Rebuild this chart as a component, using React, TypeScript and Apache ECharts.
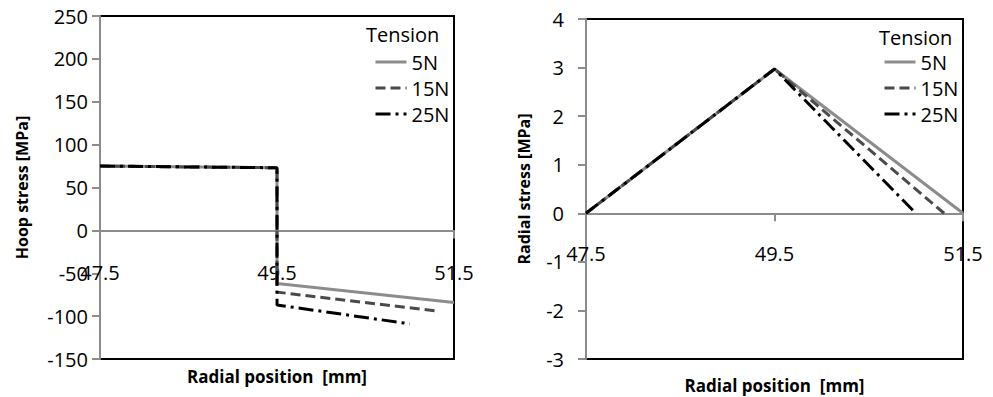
import React, { useEffect, useRef } from "react";
import * as echarts from "echarts";

const seriesNames = ["5N", "15N", "25N"];
const xTicks = [47.5, 49.5, 51.5];

// Hoop stress [MPa] vs radial position [mm]
const hoop5N = [[47.5, 75], [49.5, 73], [49.5, -62], [51.5, -84]];
const hoop15N = [[47.5, 75], [49.5, 73], [49.5, -72], [51.3, -94]];
const hoop25N = [[47.5, 75], [49.5, 73], [49.5, -87], [51.0, -109]];

// Radial stress [MPa] vs radial position [mm]
const radial5N = [[47.5, 0], [49.5, 2.97], [51.5, 0]];
const radial15N = [[47.5, 0], [49.5, 2.97], [51.3, 0]];
const radial25N = [[47.5, 0], [49.5, 2.97], [51.0, 0]];

const FONT = "Open Sans";
const AXIS_GRAY = "#8c8c8c";

const lineStyles = [
  { color: "#8c8c8c", width: 3, type: "solid" },
  { color: "#4a4a4a", width: 3, type: [10, 5] },
  { color: "#000000", width: 3, type: [15, 5, 3, 5] },
];

function makeX(gridIndex: number, labelMargin: number, nameGap: number) {
  return {
    gridIndex,
    type: "value",
    min: 47.5,
    max: 51.5,
    axisLine: { show: true, onZero: true, lineStyle: { color: AXIS_GRAY, width: 2 } },
    axisTick: { show: true, customValues: xTicks, length: 8, lineStyle: { color: AXIS_GRAY, width: 2 } },
    axisLabel: { customValues: xTicks, margin: labelMargin, fontSize: 20, fontFamily: FONT, color: "#000" },
    splitLine: { show: false },
    name: "Radial position  [mm]",
    nameLocation: "middle",
    nameGap,
    nameTextStyle: { fontSize: 17, fontWeight: "bold", fontFamily: FONT, color: "#000" },
  };
}

function makeY(gridIndex: number, min: number, max: number, interval: number, name: string, nameGap: number, labelMargin: number) {
  return {
    gridIndex,
    type: "value",
    min,
    max,
    interval,
    axisLine: { show: true, onZero: false, lineStyle: { color: AXIS_GRAY, width: 2 } },
    axisTick: { show: true, length: 8, lineStyle: { color: AXIS_GRAY, width: 2 } },
    axisLabel: { margin: labelMargin, fontSize: 20, fontFamily: FONT, color: "#000" },
    splitLine: { show: false },
    name,
    nameLocation: "middle",
    nameGap,
    nameTextStyle: { fontSize: 16, fontWeight: "bold", fontFamily: FONT, color: "#000" },
  };
}

function makeSeries(idx: number, datas: number[][][]) {
  return datas.map((d, i) => ({
    type: "line",
    name: seriesNames[i],
    xAxisIndex: idx,
    yAxisIndex: idx,
    data: d,
    showSymbol: false,
    symbol: "none",
    lineStyle: lineStyles[i],
    itemStyle: { color: lineStyles[i].color },
  }));
}

function makeLegend(left: number, top: number) {
  return {
    data: seriesNames,
    orient: "vertical",
    left,
    top,
    padding: 0,
    itemWidth: 31,
    itemHeight: 14,
    itemGap: 6,
    itemStyle: { color: "transparent", borderWidth: 0, opacity: 0 },
    lineStyle: { width: 3 },
    textStyle: { fontSize: 20, fontFamily: FONT, color: "#000", lineHeight: 20 },
    selectedMode: false,
  };
}

export default function App() {
  const ref = useRef<HTMLDivElement>(null);
  useEffect(() => {
    if (!ref.current) return;
    const chart = echarts.init(ref.current, null, { renderer: "svg" });
    chart.setOption({
      animation: false,
      backgroundColor: "#fff",
      textStyle: { fontFamily: FONT },
      title: [
        { text: "Tension", left: 366, top: 24, padding: 0, textStyle: { fontSize: 20, fontWeight: "normal", fontFamily: FONT, color: "#000" } },
        { text: "Tension", left: 879, top: 27, padding: 0, textStyle: { fontSize: 20, fontWeight: "normal", fontFamily: FONT, color: "#000" } },
      ],
      legend: [makeLegend(374, 52), makeLegend(883, 52)],
      grid: [
        { left: 100, top: 16, width: 354, height: 343, containLabel: false, outerBoundsMode: "none", show: true, borderColor: "#000", borderWidth: 2, backgroundColor: "transparent" },
        { left: 586, top: 19, width: 377, height: 340, containLabel: false, outerBoundsMode: "none", show: true, borderColor: "#000", borderWidth: 2, backgroundColor: "transparent" },
      ],
      xAxis: [makeX(0, -97, 9), makeX(1, -116, 18)],
      yAxis: [
        makeY(0, -150, 250, 50, "Hoop stress [MPa]", 70, 12),
        makeY(1, -3, 4, 1, "Radial stress [MPa]", 54, 22),
      ],
      series: [
        ...makeSeries(0, [hoop5N, hoop15N, hoop25N]),
        ...makeSeries(1, [radial5N, radial15N, radial25N]),
      ],
    });
    return () => chart.dispose();
  }, []);
  return <div ref={ref} style={{ position: "fixed", left: 0, top: 0, width: 993, height: 397 }} />;
}
